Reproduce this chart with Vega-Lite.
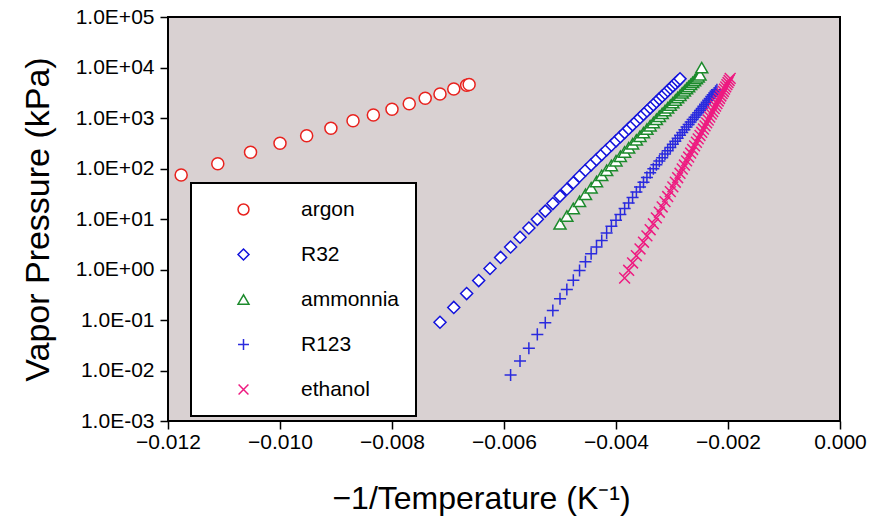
{
  "$schema": "https://vega.github.io/schema/vega-lite/v6.json",
  "width": 672,
  "height": 404,
  "autosize": {"type": "none"},
  "padding": {"left": 168, "top": 17, "right": 33, "bottom": 96},
  "background": "white",
  "data": {"values": [
    {"s":"argon","x":-0.011765,"p":74.3},{"s":"argon","x":-0.011111,"p":124},{"s":"argon","x":-0.010526,"p":209},{"s":"argon","x":-0.01,"p":316},{"s":"argon","x":-0.009524,"p":446},{"s":"argon","x":-0.009091,"p":625},{"s":"argon","x":-0.008696,"p":885},{"s":"argon","x":-0.008333,"p":1146},{"s":"argon","x":-0.008,"p":1486},{"s":"argon","x":-0.007692,"p":1919},{"s":"argon","x":-0.007407,"p":2455},{"s":"argon","x":-0.007143,"p":2987},{"s":"argon","x":-0.006897,"p":3750},{"s":"argon","x":-0.006667,"p":4443},{"s":"argon","x":-0.006623,"p":4600},
    {"s":"R32","x":-0.007143,"p":0.0901},{"s":"R32","x":-0.006897,"p":0.1774},{"s":"R32","x":-0.006667,"p":0.334},{"s":"R32","x":-0.006452,"p":0.604},{"s":"R32","x":-0.00625,"p":1.047},{"s":"R32","x":-0.006061,"p":1.734},{"s":"R32","x":-0.005882,"p":2.786},{"s":"R32","x":-0.005714,"p":4.345},{"s":"R32","x":-0.005556,"p":6.64},{"s":"R32","x":-0.005405,"p":9.86},{"s":"R32","x":-0.005263,"p":14.32},{"s":"R32","x":-0.005128,"p":20.23},{"s":"R32","x":-0.005,"p":28.38},{"s":"R32","x":-0.004878,"p":38.8},{"s":"R32","x":-0.004762,"p":52.4},{"s":"R32","x":-0.004651,"p":70.1},{"s":"R32","x":-0.004545,"p":92.5},{"s":"R32","x":-0.004444,"p":118.3},{"s":"R32","x":-0.004348,"p":150},{"s":"R32","x":-0.004255,"p":188.4},{"s":"R32","x":-0.004167,"p":234.4},{"s":"R32","x":-0.004082,"p":288.4},{"s":"R32","x":-0.004,"p":352.4},{"s":"R32","x":-0.003922,"p":426.6},{"s":"R32","x":-0.003846,"p":514},{"s":"R32","x":-0.003774,"p":615.2},{"s":"R32","x":-0.003704,"p":731.1},{"s":"R32","x":-0.003636,"p":865},{"s":"R32","x":-0.003571,"p":1014},{"s":"R32","x":-0.003509,"p":1183},{"s":"R32","x":-0.003448,"p":1374},{"s":"R32","x":-0.00339,"p":1592},{"s":"R32","x":-0.003333,"p":1824},{"s":"R32","x":-0.003279,"p":2099},{"s":"R32","x":-0.003226,"p":2393},{"s":"R32","x":-0.003175,"p":2710},{"s":"R32","x":-0.003125,"p":3062},{"s":"R32","x":-0.003077,"p":3467},{"s":"R32","x":-0.00303,"p":3882},{"s":"R32","x":-0.002985,"p":4325},{"s":"R32","x":-0.002941,"p":4831},{"s":"R32","x":-0.002899,"p":5383},{"s":"R32","x":-0.002857,"p":5957},
    {"s":"ammonnia","x":-0.005,"p":8.0},{"s":"ammonnia","x":-0.004878,"p":11.46},{"s":"ammonnia","x":-0.004762,"p":16.19},{"s":"ammonnia","x":-0.004651,"p":22.49},{"s":"ammonnia","x":-0.004545,"p":30.9},{"s":"ammonnia","x":-0.004444,"p":41.6},{"s":"ammonnia","x":-0.004348,"p":55.3},{"s":"ammonnia","x":-0.004255,"p":73.1},{"s":"ammonnia","x":-0.004167,"p":92.1},{"s":"ammonnia","x":-0.004082,"p":115.1},{"s":"ammonnia","x":-0.004,"p":142.6},{"s":"ammonnia","x":-0.003922,"p":175},{"s":"ammonnia","x":-0.003846,"p":212.8},{"s":"ammonnia","x":-0.003774,"p":257.6},{"s":"ammonnia","x":-0.003704,"p":309},{"s":"ammonnia","x":-0.003636,"p":369},{"s":"ammonnia","x":-0.003571,"p":436.5},{"s":"ammonnia","x":-0.003509,"p":514},{"s":"ammonnia","x":-0.003448,"p":603.9},{"s":"ammonnia","x":-0.00339,"p":704.7},{"s":"ammonnia","x":-0.003333,"p":814.7},{"s":"ammonnia","x":-0.003279,"p":941.9},{"s":"ammonnia","x":-0.003226,"p":1086},{"s":"ammonnia","x":-0.003175,"p":1233},{"s":"ammonnia","x":-0.003125,"p":1406},{"s":"ammonnia","x":-0.003077,"p":1592},{"s":"ammonnia","x":-0.00303,"p":1799},{"s":"ammonnia","x":-0.002985,"p":2014},{"s":"ammonnia","x":-0.002941,"p":2270},{"s":"ammonnia","x":-0.002899,"p":2541},{"s":"ammonnia","x":-0.002857,"p":2825},{"s":"ammonnia","x":-0.002817,"p":3148},{"s":"ammonnia","x":-0.002778,"p":3467},{"s":"ammonnia","x":-0.00274,"p":3828},{"s":"ammonnia","x":-0.002703,"p":4217},{"s":"ammonnia","x":-0.002667,"p":4634},{"s":"ammonnia","x":-0.002632,"p":5078},{"s":"ammonnia","x":-0.002597,"p":5534},{"s":"ammonnia","x":-0.002564,"p":6067},{"s":"ammonnia","x":-0.002532,"p":6577},{"s":"ammonnia","x":-0.0025,"p":7145},{"s":"ammonnia","x":-0.002469,"p":9954},
    {"s":"R123","x":-0.005882,"p":0.00815},{"s":"R123","x":-0.005714,"p":0.01542},{"s":"R123","x":-0.005556,"p":0.02748},{"s":"R123","x":-0.005405,"p":0.0519},{"s":"R123","x":-0.005263,"p":0.0885},{"s":"R123","x":-0.005128,"p":0.1549},{"s":"R123","x":-0.005,"p":0.2636},{"s":"R123","x":-0.004878,"p":0.4027},{"s":"R123","x":-0.004762,"p":0.615},{"s":"R123","x":-0.004651,"p":0.955},{"s":"R123","x":-0.004545,"p":1.419},{"s":"R123","x":-0.004444,"p":2.042},{"s":"R123","x":-0.004348,"p":2.786},{"s":"R123","x":-0.004255,"p":3.74},{"s":"R123","x":-0.004167,"p":5.31},{"s":"R123","x":-0.004082,"p":7.18},{"s":"R123","x":-0.004,"p":9.42},{"s":"R123","x":-0.003922,"p":12.22},{"s":"R123","x":-0.003846,"p":16.07},{"s":"R123","x":-0.003774,"p":20.8},{"s":"R123","x":-0.003704,"p":26.7},{"s":"R123","x":-0.003636,"p":34.2},{"s":"R123","x":-0.003571,"p":42.9},{"s":"R123","x":-0.003509,"p":53.6},{"s":"R123","x":-0.003448,"p":66.7},{"s":"R123","x":-0.00339,"p":82.6},{"s":"R123","x":-0.003333,"p":98.6},{"s":"R123","x":-0.003279,"p":118.3},{"s":"R123","x":-0.003226,"p":140},{"s":"R123","x":-0.003175,"p":164.1},{"s":"R123","x":-0.003125,"p":193.6},{"s":"R123","x":-0.003077,"p":224.9},{"s":"R123","x":-0.00303,"p":261.2},{"s":"R123","x":-0.002985,"p":302},{"s":"R123","x":-0.002941,"p":348.3},{"s":"R123","x":-0.002899,"p":398.9},{"s":"R123","x":-0.002857,"p":457.1},{"s":"R123","x":-0.002817,"p":518.8},{"s":"R123","x":-0.002778,"p":584.8},{"s":"R123","x":-0.00274,"p":663.7},{"s":"R123","x":-0.002703,"p":741.3},{"s":"R123","x":-0.002667,"p":833.7},{"s":"R123","x":-0.002632,"p":929},{"s":"R123","x":-0.002597,"p":1032},{"s":"R123","x":-0.002564,"p":1151},{"s":"R123","x":-0.002532,"p":1274},{"s":"R123","x":-0.0025,"p":1406},{"s":"R123","x":-0.002469,"p":1549},{"s":"R123","x":-0.002439,"p":1702},{"s":"R123","x":-0.00241,"p":1875},{"s":"R123","x":-0.002381,"p":2051},{"s":"R123","x":-0.002353,"p":2239},{"s":"R123","x":-0.002326,"p":2438},{"s":"R123","x":-0.002299,"p":2661},{"s":"R123","x":-0.002273,"p":2871},{"s":"R123","x":-0.002247,"p":3133},{"s":"R123","x":-0.002222,"p":3388},{"s":"R123","x":-0.002198,"p":3642},
    {"s":"ethanol","x":-0.003846,"p":0.679},{"s":"ethanol","x":-0.003774,"p":0.964},{"s":"ethanol","x":-0.003704,"p":1.349},{"s":"ethanol","x":-0.003636,"p":1.875},{"s":"ethanol","x":-0.003571,"p":2.553},{"s":"ethanol","x":-0.003509,"p":3.467},{"s":"ethanol","x":-0.003448,"p":4.634},{"s":"ethanol","x":-0.00339,"p":6.146},{"s":"ethanol","x":-0.003333,"p":8.04},{"s":"ethanol","x":-0.003279,"p":10.52},{"s":"ethanol","x":-0.003226,"p":13.62},{"s":"ethanol","x":-0.003175,"p":17.34},{"s":"ethanol","x":-0.003125,"p":22.08},{"s":"ethanol","x":-0.003077,"p":27.86},{"s":"ethanol","x":-0.00303,"p":34.83},{"s":"ethanol","x":-0.002985,"p":43.25},{"s":"ethanol","x":-0.002941,"p":53.58},{"s":"ethanol","x":-0.002899,"p":65.77},{"s":"ethanol","x":-0.002857,"p":80.35},{"s":"ethanol","x":-0.002817,"p":97.7},{"s":"ethanol","x":-0.002778,"p":117.2},{"s":"ethanol","x":-0.00274,"p":141.9},{"s":"ethanol","x":-0.002703,"p":168.7},{"s":"ethanol","x":-0.002667,"p":202.3},{"s":"ethanol","x":-0.002632,"p":238.3},{"s":"ethanol","x":-0.002597,"p":281.2},{"s":"ethanol","x":-0.002564,"p":331.1},{"s":"ethanol","x":-0.002532,"p":386.4},{"s":"ethanol","x":-0.0025,"p":450.8},{"s":"ethanol","x":-0.002469,"p":521.2},{"s":"ethanol","x":-0.002439,"p":603.9},{"s":"ethanol","x":-0.00241,"p":698.2},{"s":"ethanol","x":-0.002381,"p":799.8},{"s":"ethanol","x":-0.002353,"p":912},{"s":"ethanol","x":-0.002326,"p":1047},{"s":"ethanol","x":-0.002299,"p":1194},{"s":"ethanol","x":-0.002273,"p":1343},{"s":"ethanol","x":-0.002247,"p":1535},{"s":"ethanol","x":-0.002222,"p":1726},{"s":"ethanol","x":-0.002198,"p":1936},{"s":"ethanol","x":-0.002174,"p":2178},{"s":"ethanol","x":-0.002151,"p":2438},{"s":"ethanol","x":-0.002128,"p":2735},{"s":"ethanol","x":-0.002105,"p":3034},{"s":"ethanol","x":-0.002083,"p":3357},{"s":"ethanol","x":-0.002062,"p":3724},{"s":"ethanol","x":-0.002041,"p":4140},{"s":"ethanol","x":-0.00202,"p":4571},{"s":"ethanol","x":-0.002,"p":5035},{"s":"ethanol","x":-0.00198,"p":5534},{"s":"ethanol","x":-0.001961,"p":6090}
  ]},
  "mark": {"type": "point", "filled": false, "fill": "white", "fillOpacity": 1, "opacity": 1, "strokeWidth": 1.5, "size": 145},
  "encoding": {
    "x": {
      "field": "x", "type": "quantitative",
      "scale": {"domain": [-0.012, 0], "nice": false, "zero": false},
      "axis": {
        "values": [-0.012, -0.01, -0.008, -0.006, -0.004, -0.002, 0],
        "format": ".3f",
        "labelFlush": false,
        "labelOverlap": false,
        "labelPadding": 2,
        "title": "−1/Temperature (K⁻¹)",
        "titleFontSize": 32,
        "titleX": 313,
        "titleY": 87,
        "titleAlign": "center",
        "titleBaseline": "alphabetic"
      }
    },
    "y": {
      "field": "p", "type": "quantitative",
      "scale": {"type": "log", "domain": [0.001, 100000], "nice": false},
      "axis": {
        "values": [0.001, 0.01, 0.1, 1, 10, 100, 1000, 10000, 100000],
        "labelExpr": "'1.0E' + (datum.value >= 1 ? '+' : '-') + '0' + abs(round(log(datum.value) / LN10))",
        "labelFlush": false,
        "labelOverlap": false,
        "labelPadding": 6,
        "title": "Vapor Pressure (kPa)",
        "titleFontSize": 34,
        "titleAngle": -90,
        "titleX": -120,
        "titleY": 202,
        "titleAlign": "center",
        "titleBaseline": "alphabetic"
      }
    },
    "stroke": {
      "field": "s", "type": "nominal",
      "scale": {"domain": ["argon", "R32", "ammonnia", "R123", "ethanol"], "range": ["#e8221e", "#1212dc", "#1c8a2c", "#2a2ade", "#ee1a80"]},
      "legend": {"title": null, "orient": "none", "legendX": 23, "legendY": 166, "fillColor": "white", "strokeColor": "black", "padding": 16, "symbolOffset": 26, "labelOffset": 47, "rowPadding": 23, "symbolSize": 120, "symbolFillColor": "white", "symbolStrokeWidth": 1.5, "labelFontSize": 21, "labelColor": "black"}
    },
    "shape": {
      "field": "s", "type": "nominal",
      "scale": {"domain": ["argon", "R32", "ammonnia", "R123", "ethanol"], "range": ["circle", "diamond", "triangle-up", "M-1,0H1M0,-1V1", "M-0.9,-0.9L0.9,0.9M0.9,-0.9L-0.9,0.9"]},
      "legend": {"title": null, "orient": "none", "legendX": 23, "legendY": 166, "fillColor": "white", "strokeColor": "black", "padding": 16, "symbolOffset": 26, "labelOffset": 47, "rowPadding": 23, "symbolSize": 120, "symbolFillColor": "white", "symbolStrokeWidth": 1.5, "labelFontSize": 21, "labelColor": "black"}
    }
  },
  "config": {
    "font": "Liberation Sans",
    "view": {"fill": "#d9d1d2", "stroke": "#000000", "strokeWidth": 2},
    "axis": {"domain": false, "grid": false, "ticks": true, "tickColor": "#000000", "tickWidth": 1.5, "tickSize": 8, "labelColor": "#000000", "labelFontSize": 21, "titleColor": "#000000", "titleFontWeight": "normal"},
    "legend": {"strokeWidth": 2}
  }
}
